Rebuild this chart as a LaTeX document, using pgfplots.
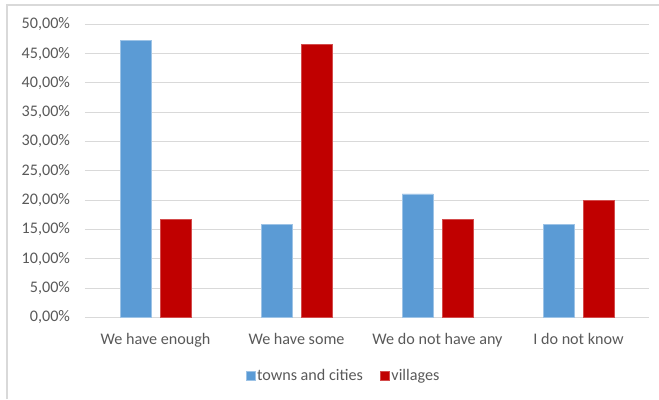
\documentclass[border=0pt]{standalone}
\usepackage{pgfplots}
\pgfplotsset{compat=1.18}
\usepackage{fontspec}
\setmainfont{Carlito}
\definecolor{cblue}{HTML}{5B9BD5}
\definecolor{cred}{HTML}{C00000}
\definecolor{ctext}{HTML}{595959}
\definecolor{cgrid}{HTML}{D9D9D9}
\begin{document}
\begin{tikzpicture}[x=1bp,y=1bp]
\useasboundingbox (-85,-81.7) rectangle (574,317.3);
\draw[cgrid, line width=1.2bp] (-78,-81.7) -- (-78,312.3) -- (574,312.3);
\begin{axis}[
  at={(0,0)}, anchor=south west,
  scale only axis, width=564bp, height=293bp,
  ybar=9bp, bar width=31bp,
  xmin=-0.5, xmax=3.5, ymin=0, ymax=50,
  xtick=data,
  xticklabels={We have enough, We have some, We do not have any, I do not know},
  ytick={0,5,...,50},
  /pgf/number format/assume math mode=true,
  yticklabel={\pgfmathprintnumber[fixed,fixed zerofill,precision=2,use comma,assume math mode=true]{\tick}\%},
  ymajorgrids, grid style={cgrid, line width=0.9bp},
  axis line style={draw=none},
  major tick length=0pt,
  tick label style={font=\fontsize{16.2}{18}\selectfont, text=ctext},
  y tick label style={xshift=-11.5bp},
  x tick label style={yshift=-12bp},
  legend columns=2,
  legend style={at={(0.445,-0.2)}, anchor=center, draw=none, fill=none,
    font=\fontsize{16.2}{18}\selectfont, text=ctext,
    nodes={inner xsep=2bp}},
  legend image code/.code={\path (-15bp,0bp); \fill[#1] (0bp,-4.5bp) rectangle (9bp,4.5bp);},
  clip=false,
]
\draw[cgrid, line width=1bp] (axis cs:-0.5,0) -- (axis cs:3.5,0);
\addplot[fill=cblue, draw=cblue!60!white, line width=0.5bp] coordinates {(0,47.3) (1,15.8) (2,21.05) (3,15.8)};
\addplot[fill=cred, draw=cred!70!white, line width=0.5bp] coordinates {(0,16.7) (1,46.6) (2,16.7) (3,20.0)};
\legend{towns and cities, villages}
\end{axis}
\end{tikzpicture}
\end{document}
